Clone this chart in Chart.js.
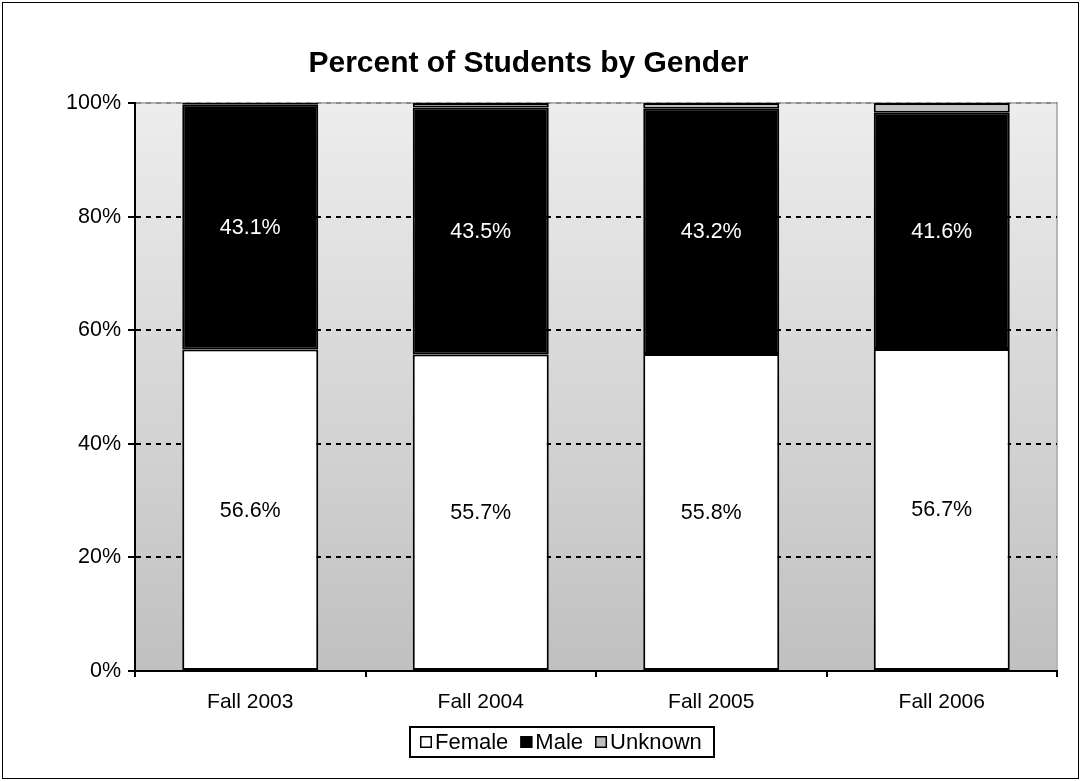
<!DOCTYPE html>
<html>
<head>
<meta charset="utf-8">
<script src="https://cdn.jsdelivr.net/npm/chart.js@4"></script>
<style>
  html, body { margin: 0; padding: 0; background: #fff; }
  #wrap { width: 1081px; height: 781px; }
</style>
</head>
<body>
<div id="wrap"><canvas id="genderChart" width="1081" height="781"></canvas></div>
<script>
// Data
const terms = ['Fall 2003', 'Fall 2004', 'Fall 2005', 'Fall 2006'];
const female = [56.6, 55.7, 55.8, 56.7];
const male = [43.1, 43.5, 43.2, 41.6];
const unknown = [0.3, 0.8, 1.0, 1.7];
const yTicks = [0, 20, 40, 60, 80, 100];

const FONT = 'Arial, "Liberation Sans", sans-serif';

// Gray gradient behind the plot area, outer frame and boxed legend
const backdrop = {
    id: 'backdrop',
    beforeDraw(chart) {
        const { ctx, chartArea: a } = chart;
        const g = ctx.createLinearGradient(0, a.top, 0, a.bottom);
        g.addColorStop(0, '#ededed');
        g.addColorStop(1, '#c0c0c0');
        ctx.save();
        ctx.fillStyle = g;
        ctx.fillRect(a.left, a.top, a.right - a.left, a.bottom - a.top);
        ctx.strokeStyle = '#b4b4b4';
        ctx.lineWidth = 2;
        ctx.beginPath();
        ctx.moveTo(a.left, a.top);
        ctx.lineTo(a.right, a.top);
        ctx.lineTo(a.right, a.bottom);
        ctx.stroke();
        ctx.restore();
    },
    afterDraw(chart) {
        const { ctx } = chart;
        ctx.save();
        ctx.strokeStyle = '#000';
        ctx.lineWidth = 1;
        ctx.strokeRect(2.5, 2.5, chart.width - 5, chart.height - 5);

        // legend
        ctx.font = '22px ' + FONT;
        ctx.textBaseline = 'middle';
        ctx.textAlign = 'left';
        const sets = chart.data.datasets;
        const box = 12, gap = 3, spacing = 12;
        const widths = sets.map(d => box + gap + ctx.measureText(d.label).width);
        const content = widths.reduce((s, w) => s + w, 0) + spacing * (sets.length - 1);
        const cx = 562, cy = 742;
        const padL = 10, padR = 12;
        const left = Math.round(cx - (content + padL + padR) / 2);
        ctx.lineWidth = 2;
        ctx.strokeRect(left, cy - 15, Math.round(content + padL + padR), 30);
        let x = left + padL;
        sets.forEach((d, i) => {
            ctx.fillStyle = d.backgroundColor;
            ctx.fillRect(x, cy - 6, box, box);
            ctx.lineWidth = 1.5;
            ctx.strokeStyle = '#000';
            ctx.strokeRect(x + 0.75, cy - 5.25, box - 1.5, box - 1.5);
            ctx.fillStyle = '#000';
            ctx.fillText(d.label, x + box + gap, cy + 1);
            x += widths[i] + spacing;
        });
        ctx.restore();
    }
};

// Percentage labels centered in the Female and Male segments
const segLabels = {
    id: 'segLabels',
    afterDatasetsDraw(chart) {
        const { ctx } = chart;
        ctx.save();
        ctx.font = '21.5px ' + FONT;
        ctx.textAlign = 'center';
        ctx.textBaseline = 'middle';
        [0, 1].forEach(di => {
            const meta = chart.getDatasetMeta(di);
            meta.data.forEach((bar, i) => {
                ctx.fillStyle = di === 0 ? '#000' : '#fff';
                const v = chart.data.datasets[di].data[i];
                ctx.fillText(v.toFixed(1) + '%', bar.x, (bar.y + bar.base) / 2 + 1);
            });
        });
        ctx.restore();
    }
};

const ctx = document.getElementById('genderChart').getContext('2d');

new Chart(ctx, {
    type: 'bar',
    data: {
        labels: terms,
        datasets: [
            { label: 'Female', data: female, backgroundColor: '#ffffff' },
            { label: 'Male', data: male, backgroundColor: '#000000' },
            { label: 'Unknown', data: unknown, backgroundColor: '#c0c0c0' }
        ]
    },
    options: {
        responsive: false,
        animation: false,
        layout: { padding: { left: 0, right: 24, top: 0, bottom: 0 } },
        datasets: {
            bar: {
                borderColor: '#000',
                borderWidth: 2,
                borderSkipped: false,
                categoryPercentage: 0.59,
                barPercentage: 1
            }
        },
        plugins: {
            title: {
                display: true,
                text: 'Percent of Students by Gender',
                color: '#000',
                font: { family: FONT, size: 30, weight: 'bold' },
                padding: { top: 46, bottom: 21 }
            },
            legend: { display: false },
            tooltip: { enabled: false }
        },
        scales: {
            x: {
                stacked: true,
                afterFit: s => { s.height = 110; },
                border: { color: '#000', width: 2 },
                grid: {
                    offset: true,
                    drawOnChartArea: false,
                    color: '#000',
                    tickLength: 6,
                    lineWidth: 2
                },
                ticks: {
                    color: '#000',
                    font: { family: FONT, size: 21 },
                    padding: 13
                }
            },
            y: {
                stacked: true,
                min: 0,
                max: 100,
                afterFit: s => { s.width = 135; },
                afterBuildTicks: s => { s.ticks = yTicks.map(v => ({ value: v })); },
                border: { color: '#000', width: 2, dash: [5, 5] },
                grid: {
                    color: c => c.tick.value === 100 ? '#8c8c8c' : (c.tick.value === 0 ? 'rgba(0,0,0,0)' : '#000'),
                    lineWidth: 2,
                    tickColor: '#000',
                    tickBorderDash: [],
                    tickLength: 7
                },
                ticks: {
                    color: '#000',
                    font: { family: FONT, size: 21.5 },
                    padding: 7,
                    callback: v => v + '%'
                }
            }
        }
    },
    plugins: [backdrop, segLabels]
});
</script>
</body>
</html>
